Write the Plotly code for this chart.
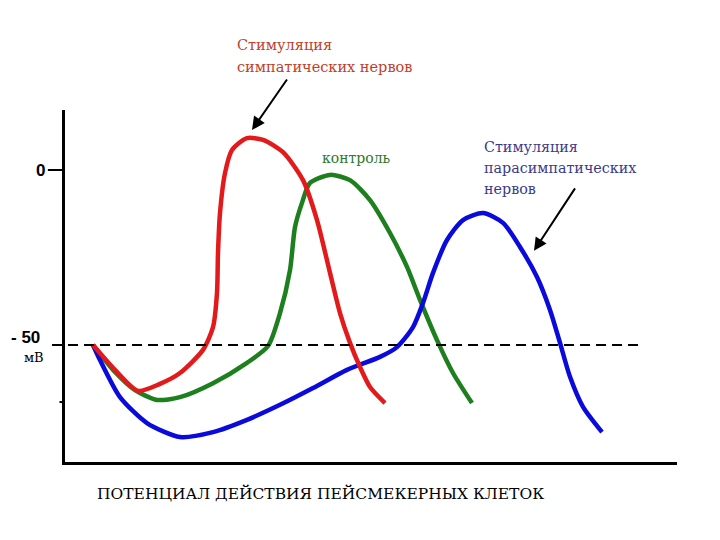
import plotly.graph_objects as go

# time (arbitrary units) and membrane potential (mV)
red_t = [28, 50, 73, 95, 115, 138, 148, 152, 153, 155, 160, 167, 182, 198, 218, 238, 252, 265, 275, 285, 295, 305, 320]
red_v = [-50, -57.1, -63.1, -61.1, -58.0, -51.4, -44.9, -35.1, -23.7, -12.3, -0.9, 5.7, 9.1, 8.6, 5.1, -2.9, -14.3,
         -29.4, -40.9, -49.4, -56.3, -62.0, -66.6]

green_t = [28, 50, 70, 92, 115, 148, 182, 203, 215, 225, 230, 237, 245, 265, 285, 305, 325, 342, 355, 372, 388, 407]
green_v = [-50, -57.7, -62.9, -65.7, -64.9, -60.9, -55.1, -50.3, -40.9, -28.6, -16.3, -9.4, -3.7, -1.4, -2.9, -8.6,
           -18.0, -27.7, -37.1, -48.6, -58.0, -66.6]

blue_t = [28, 35, 55, 82, 115, 148, 182, 215, 248, 282, 315, 332, 348, 358, 368, 382, 398, 418, 438, 455, 472, 485,
          495, 505, 518, 537]
blue_v = [-50, -54.3, -64.9, -72.3, -76.3, -74.9, -71.4, -67.1, -62.3, -57.1, -53.4, -50.6, -44.9, -38.0, -29.4,
          -20.0, -14.3, -12.3, -15.1, -22.0, -30.6, -40.0, -49.4, -59.1, -67.7, -74.9]

threshold_mv = -50
y_ticks = [0, -50]
y_tick_labels = ["0", "- 50"]
minor_tick_mv = -66.3
unit_label = "мВ"

symp_lines = ["Стимуляция", "симпатических нервов"]
control_label = "контроль"
parasymp_lines = ["Стимуляция", "парасимпатических", "нервов"]
x_title = "ПОТЕНЦИАЛ ДЕЙСТВИЯ ПЕЙСМЕКЕРНЫХ КЛЕТОК"

x_range = [0, 612]
y_range = [-83.43, 17.14]

fig = go.Figure()
fig.add_trace(go.Scatter(x=green_t, y=green_v, mode="lines",
                         line=dict(color="#1E7F1E", width=4.5, shape="spline", smoothing=0.7)))
fig.add_trace(go.Scatter(x=blue_t, y=blue_v, mode="lines",
                         line=dict(color="#0A0ADC", width=4.5, shape="spline", smoothing=0.7)))
fig.add_trace(go.Scatter(x=red_t, y=red_v, mode="lines",
                         line=dict(color="#E31A1C", width=4.5, shape="spline", smoothing=0.7)))

shapes = [
    dict(type="line", xref="paper", yref="y", x0=-0.0212, x1=0.9395, y0=threshold_mv, y1=threshold_mv,
         line=dict(color="black", width=2, dash="10px,6px")),
    dict(type="line", xref="paper", yref="y", x0=-0.028, x1=0, y0=y_ticks[0], y1=y_ticks[0],
         line=dict(color="black", width=2)),
    dict(type="line", xref="paper", yref="y", x0=-0.009, x1=0, y0=minor_tick_mv, y1=minor_tick_mv,
         line=dict(color="black", width=2)),
]

serif = "DejaVu Serif"
sans = "Liberation Sans"
annotations = [
    dict(xref="paper", yref="paper", x=-0.0294, y=0.8295, xanchor="right", yanchor="middle",
         text="<b>%s</b>" % y_tick_labels[0], showarrow=False,
         font=dict(family=sans, size=17, color="black")),
    dict(xref="paper", yref="paper", x=-0.0376, y=0.355, xanchor="right", yanchor="middle",
         text="<b>%s</b>" % y_tick_labels[1], showarrow=False,
         font=dict(family=sans, size=17, color="black")),
    dict(xref="paper", yref="paper", x=-0.0507, y=0.2955, xanchor="center", yanchor="middle",
         text=unit_label, showarrow=False, font=dict(family=serif, size=13, color="black")),
    dict(xref="paper", yref="paper", x=0.4167, y=0.8636, xanchor="left", yanchor="middle",
         text=control_label, showarrow=False, font=dict(family=serif, size=14, color="#2A7A2A")),
    dict(xref="paper", yref="paper", x=0.4167, y=-0.0881, xanchor="center", yanchor="middle",
         text=x_title, showarrow=False, font=dict(family=serif, size=15.5, color="black")),
    dict(xref="x", yref="y", x=187, y=11.43, ax=36, ay=-52, text="", showarrow=True,
         arrowhead=2, arrowsize=1.3, arrowwidth=2, arrowcolor="black"),
    dict(xref="x", yref="y", x=469, y=-23.1, ax=42, ay=-64, text="", showarrow=True,
         arrowhead=2, arrowsize=1.3, arrowwidth=2, arrowcolor="black"),
]
for line, yp in zip(symp_lines, [1.1847, 1.1222]):
    annotations.append(dict(xref="paper", yref="paper", x=0.2778, y=yp, xanchor="left", yanchor="middle",
                            text=line, showarrow=False, font=dict(family=serif, size=14.5, color="#C0402A")))
for line, yp in zip(parasymp_lines, [0.8949, 0.8352, 0.7756]):
    annotations.append(dict(xref="paper", yref="paper", x=0.6814, y=yp, xanchor="left", yanchor="middle",
                            text=line, showarrow=False, font=dict(family=serif, size=14.3, color="#3A3A8C")))

# page body adds an 8px offset; margins compensate so the plot area sits at x 65-677, y 110-462
fig.update_layout(
    width=720, height=540,
    margin=dict(l=57, r=51, t=102, b=86),
    paper_bgcolor="white", plot_bgcolor="white",
    showlegend=False,
    shapes=shapes, annotations=annotations,
    xaxis=dict(range=x_range, showgrid=False, zeroline=False, showticklabels=False, ticks="",
               showline=True, linecolor="black", linewidth=3),
    yaxis=dict(range=y_range, showgrid=False, zeroline=False, showticklabels=False, ticks="",
               showline=True, linecolor="black", linewidth=3),
)

fig.write_html("out.html")
